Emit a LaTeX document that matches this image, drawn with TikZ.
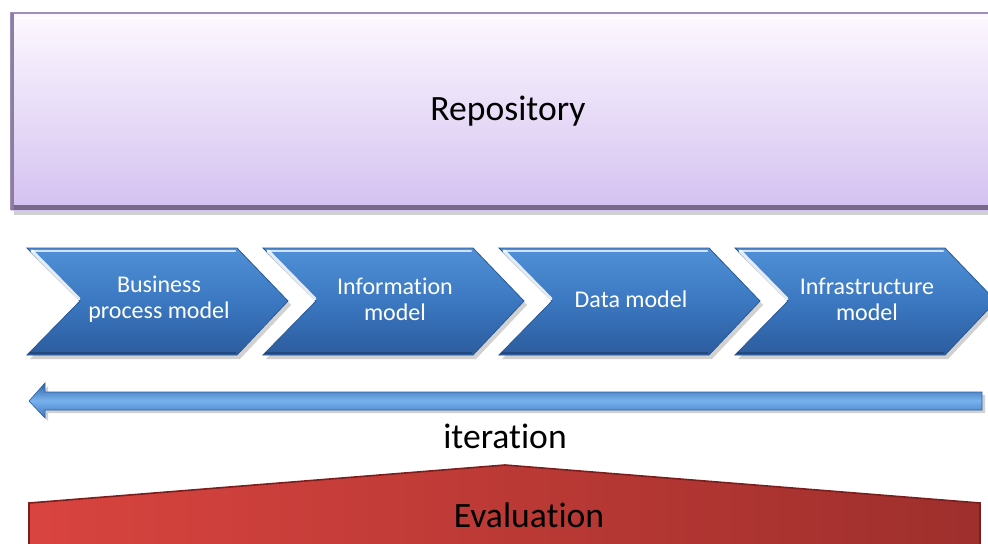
\documentclass[tikz,border=0pt]{standalone}
\usepackage{fontspec}
\setmainfont[Ligatures=NoCommon]{Carlito}
\definecolor{repotop}{HTML}{FDF8FF}
\definecolor{repobot}{HTML}{D3C1F0}
\definecolor{repoedge}{HTML}{A08DBB}
\definecolor{repodark}{HTML}{76698A}
\definecolor{chevtop}{HTML}{5090D6}
\definecolor{chevmid}{HTML}{3B78C1}
\definecolor{chevbot}{HTML}{2C5C9E}
\definecolor{chevedge}{HTML}{2A5894}
\definecolor{arrtop}{HTML}{2E62A5}
\definecolor{arrmid}{HTML}{79B2EE}
\definecolor{arrbot}{HTML}{3A76BE}
\definecolor{evalleft}{HTML}{D9443F}
\definecolor{evalright}{HTML}{9E2F2C}
\definecolor{evaledge}{HTML}{7A1F1D}
\tikzset{
  softshadow/.style={fill=black, opacity=0.18},
  chevfill/.style={top color=chevtop, bottom color=chevbot, middle color=chevmid, draw=chevedge, line width=0.6pt},
  chevtext/.style={text=white, font=\fontsize{18}{19.5}\selectfont, align=center},
  bigtext/.style={text=black, font=\fontsize{26.7}{30}\selectfont},
}
\newcommand{\chevpath}[1]{(#1,248) -- ++(210,0) -- ++(51,53) -- ++(-51,54) -- ++(-210,0) -- ++(53,-54) -- cycle}
\begin{document}
\begin{tikzpicture}[x=0.75pt,y=-0.75pt]
\useasboundingbox (0,0) rectangle (988,543);
\fill[white] (0,0) rectangle (988,543);

% repository panel
\fill[softshadow] (14,16) rectangle (1000,215);
\fill[top color=repotop, bottom color=repobot] (11,13) rectangle (1000,210);
\draw[repoedge, line width=1.5pt] (1000,13) -- (11,13) -- (11,210);
\draw[white, line width=2pt, opacity=0.9] (15,18) -- (1000,18);
\fill[repodark] (11,205) rectangle (1000,210);
\fill[repodark!85] (11,13) rectangle (14,210);
\node[bigtext] (repo) at (508,111) {Repository};

% process chevrons
\foreach \ox/\nm/\txt in {27/bpm/{Business\\process model}, 263/im/{Information\\model}, 499/dm/{Data model}, 735/ifm/{Infrastructure\\model}}{
  \begin{scope}[shift={(3,4)}]
    \fill[softshadow] \chevpath{\ox};
  \end{scope}
  \path[chevfill] \chevpath{\ox};
  \draw[white, line width=2pt, opacity=0.75, line cap=round] (\ox+5,251) -- (\ox+208,251);
  \draw[white, line width=2.5pt, opacity=0.85, line cap=round] (\ox+5,251) -- (\ox+52,299);
  \draw[chevbot!80!black, line width=2pt] (\ox+2,353) -- (\ox+209,353);
  \node[chevtext] (\nm) at (\ox+132,299) {\txt};
}

% iteration arrow
\fill[softshadow] (32,404) -- (48,386) -- (48,395) -- (985,395) -- (985,413) -- (48,413) -- (48,421) -- cycle;
\path[top color=arrtop, bottom color=arrbot, middle color=arrmid, draw=arrtop, line width=0.5pt]
  (29,401) -- (45,383) -- (45,392) -- (982,392) -- (982,410) -- (45,410) -- (45,418) -- cycle;
\node[bigtext] (iter) at (505,436) {iteration};

% evaluation wedge
\path[left color=evalleft, right color=evalright] (29,503) -- (505,465) -- (980,503) -- (980,550) -- (29,550) -- cycle;
\draw[evaledge, line width=1.2pt] (29,550) -- (29,503) -- (505,465) -- (980,503) -- (980,550);
\node[bigtext] (eval) at (529,515) {Evaluation};
\end{tikzpicture}
\end{document}
